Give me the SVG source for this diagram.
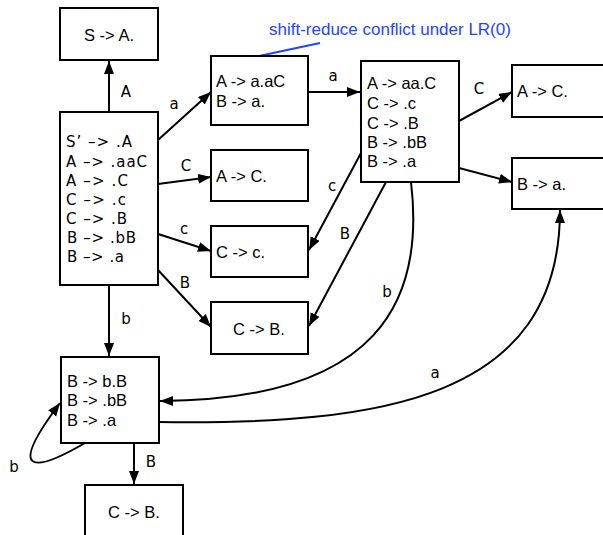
<svg xmlns="http://www.w3.org/2000/svg" width="603" height="535" viewBox="0 0 603 535">
<style>
.box{fill:#fff;stroke:#000;stroke-width:2}
.t{font-family:"Liberation Sans",Arial,sans-serif;font-size:16.5px;fill:#000}
.s{font-family:"DejaVu Sans",sans-serif;font-size:15px;fill:#000}
.l{font-family:"DejaVu Sans",sans-serif;font-size:15px;fill:#000;text-anchor:middle}
.e{fill:none;stroke:#000;stroke-width:2;marker-end:url(#ah)}
</style>
<defs>
<marker id="ah" markerUnits="userSpaceOnUse" markerWidth="14" markerHeight="11" refX="13" refY="5" orient="auto">
<path d="M0,0 L13,5 L0,10 z" fill="#000"/>
</marker>
</defs>
<g id="connectors">
<line class="e" x1="109" y1="112" x2="109" y2="61"/>
<line class="e" x1="158" y1="140" x2="211" y2="92"/>
<line class="e" x1="158" y1="184" x2="211" y2="177"/>
<line class="e" x1="158" y1="234" x2="211" y2="251"/>
<line class="e" x1="158" y1="270" x2="211" y2="327"/>
<line class="e" x1="109" y1="285" x2="109" y2="356"/>
<line class="e" x1="308" y1="92" x2="360" y2="92"/>
<line class="e" x1="459" y1="121" x2="512" y2="92"/>
<line class="e" x1="459" y1="168" x2="512" y2="182"/>
<line class="e" x1="361" y1="153" x2="309" y2="250"/>
<line class="e" x1="386" y1="182" x2="309" y2="326"/>
<path class="e" d="M411,182 C425,300 380,400 160,401"/>
<path class="e" d="M159,422 C380,425 560,400 560,210"/>
<path class="e" d="M85,443 C30,475 8,472 60,403"/>
<line class="e" x1="134" y1="443" x2="134" y2="484"/>
<text class="l" x="126" y="97">A</text>
<text class="l" x="174" y="109">a</text>
<text class="l" x="186" y="171">C</text>
<text class="l" x="184" y="234">c</text>
<text class="l" x="185" y="288">B</text>
<text class="l" x="126" y="324">b</text>
<text class="l" x="333" y="81">a</text>
<text class="l" x="479" y="94">C</text>
<text class="l" x="332" y="191">c</text>
<text class="l" x="345" y="239">B</text>
<text class="l" x="387" y="297">b</text>
<text class="l" x="435" y="378">a</text>
<text class="l" x="14" y="472">b</text>
<text class="l" x="151" y="467">B</text>
</g>
<g id="note">
<line x1="259" y1="56" x2="320" y2="43" stroke="#1f45ff" stroke-width="2"/>
<text x="269" y="35" font-family="Liberation Sans,Arial,sans-serif" font-size="17" fill="#1f45ff">shift-reduce conflict under LR(0)</text>
</g>
<g id="n_SA">
<rect class="box" x="60" y="8" width="98" height="52"/>
<text class="t" x="109" y="41" text-anchor="middle">S -&gt; A.</text>
</g>
<g id="n_start">
<rect class="box" x="60" y="112" width="98" height="173"/>
<text class="s" x="66" y="147" textLength="66" lengthAdjust="spacing">S’ –&gt; .A</text>
<text class="s" x="66" y="167" textLength="81" lengthAdjust="spacing">A –&gt; .aaC</text>
<text class="s" x="66" y="186" textLength="62" lengthAdjust="spacing">A –&gt; .C</text>
<text class="s" x="66" y="205" textLength="60" lengthAdjust="spacing">C –&gt; .c</text>
<text class="s" x="66" y="224" textLength="61" lengthAdjust="spacing">C –&gt; .B</text>
<text class="s" x="67" y="243" textLength="69" lengthAdjust="spacing">B –&gt; .bB</text>
<text class="s" x="67" y="262" textLength="57" lengthAdjust="spacing">B –&gt; .a</text>
</g>
<g id="n_a">
<rect class="box" x="211" y="56" width="97" height="69"/>
<text class="t" x="216" y="87">A -&gt; a.aC</text>
<text class="t" x="216" y="107">B -&gt; a.</text>
</g>
<g id="n_C1">
<rect class="box" x="211" y="150" width="97" height="51"/>
<text class="t" x="216" y="182">A -&gt; C.</text>
</g>
<g id="n_c">
<rect class="box" x="211" y="226" width="97" height="51"/>
<text class="t" x="216" y="258">C -&gt; c.</text>
</g>
<g id="n_B1">
<rect class="box" x="211" y="302" width="97" height="52"/>
<text class="t" x="259" y="335" text-anchor="middle">C -&gt; B.</text>
</g>
<g id="n_aa">
<rect class="box" x="361" y="61" width="98" height="121"/>
<text class="t" x="367" y="89">A -&gt; aa.C</text>
<text class="t" x="367" y="109">C -&gt; .c</text>
<text class="t" x="367" y="129">C -&gt; .B</text>
<text class="t" x="367" y="148">B -&gt; .bB</text>
<text class="t" x="367" y="167">B -&gt; .a</text>
</g>
<g id="n_C2">
<rect class="box" x="512" y="65" width="100" height="52"/>
<text class="t" x="517" y="97">A -&gt; C.</text>
</g>
<g id="n_Ba">
<rect class="box" x="512" y="158" width="100" height="51"/>
<text class="t" x="517" y="190">B -&gt; a.</text>
</g>
<g id="n_b">
<rect class="box" x="61" y="357" width="98" height="86"/>
<text class="t" x="67" y="387">B -&gt; b.B</text>
<text class="t" x="67" y="406">B -&gt; .bB</text>
<text class="t" x="67" y="426">B -&gt; .a</text>
</g>
<g id="n_B2">
<rect class="box" x="85" y="485" width="98" height="60"/>
<text class="t" x="134" y="518" text-anchor="middle">C -&gt; B.</text>
</g>
</svg>
